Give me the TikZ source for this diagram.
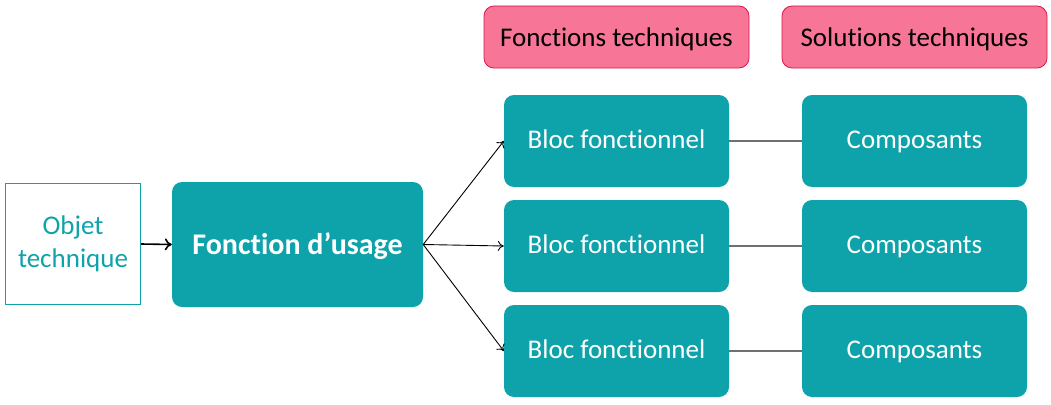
\documentclass[tikz,border=0pt]{standalone}
\usepackage{fontspec}
\setmainfont{Carlito}[Ligatures=NoCommon]
\usetikzlibrary{arrows.meta}
\definecolor{teal1}{HTML}{0EA3AA}
\definecolor{pinkfill}{HTML}{F77596}
\definecolor{pinkline}{HTML}{E0144A}
\definecolor{linkgray}{HTML}{707070}
\begin{document}
\begin{tikzpicture}[x=1pt,y=-1pt,
  tealbox/.style={fill=teal1,rounded corners=10pt,text=white,inner sep=0pt},
  pinkbox/.style={fill=pinkfill,draw=pinkline,line width=0.8pt,rounded corners=10pt,text=black,inner sep=0pt,
    minimum width=265pt,minimum height=62pt,text height=21pt,text depth=3pt,font=\fontsize{27}{32}\selectfont},
  blocbox/.style={tealbox,minimum width=225pt,minimum height=92pt,text height=19pt,text depth=5pt,font=\fontsize{27}{32}\selectfont},
  arr/.style={-{To[length=6pt,width=10pt]},line width=0.9pt,black},
  link/.style={line width=1.8pt,linkgray}]
\useasboundingbox (0,0) rectangle (1051,404);
\node[draw=teal1,line width=1.1pt,minimum width=135pt,minimum height=121pt,inner sep=0pt,text=teal1,align=center,font=\fontsize{27}{33}\selectfont] (obj) at (73,244) {Objet\\technique};
\node[tealbox,minimum width=251pt,minimum height=125pt,text height=22pt,text depth=3pt,font=\fontsize{30}{36}\selectfont\bfseries] (fu) at (297.5,244.5) {Fonction d’usage};
\node[pinkbox] (ft) at (616.5,37) {Fonctions techniques};
\node[pinkbox] (st) at (914.5,37) {Solutions techniques};
\foreach \i/\y in {1/141,2/246,3/351}{
  \node[blocbox] (b\i) at (616.5,\y) {Bloc fonctionnel};
  \node[blocbox] (c\i) at (914.5,\y) {Composants};
  \draw[link] (b\i.east) -- (c\i.west);
  \draw[arr] (fu.east) -- (b\i.west);
}
\draw[arr,line width=1.6pt,-{To[length=7pt,width=12pt]}] (obj.east) -- (fu.west);
\end{tikzpicture}
\end{document}
